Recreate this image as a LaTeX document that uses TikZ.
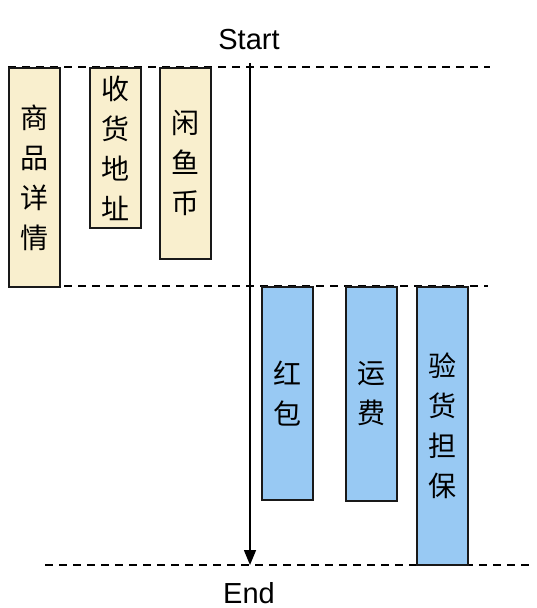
\documentclass[tikz,border=0pt]{standalone}
\usepackage{fontspec}
\setmainfont{Liberation Sans}
\newfontfamily\cjk{Noto Sans CJK SC}
\usetikzlibrary{arrows.meta}
\definecolor{beige}{RGB}{249,239,206}
\definecolor{skyb}{RGB}{152,201,243}
\begin{document}
\begin{tikzpicture}[x=1pt,y=-1pt,
  colbox/.style={draw=black!90,line width=1.8pt,inner sep=0pt,anchor=north west,minimum width=51pt,
    align=center,font=\cjk\fontsize{28}{40}\selectfont},
  ybox/.style={colbox,fill=beige},
  bbox/.style={colbox,fill=skyb},
  sep/.style={dash pattern=on 8pt off 6pt,line width=1.2pt},
  lbl/.style={font=\fontsize{29}{32}\selectfont,inner sep=0pt}]
\useasboundingbox (0,0) rectangle (536,608);
% separators
\coordinate (l1a) at (8,67);   \coordinate (l1b) at (490,67);
\coordinate (l2a) at (8,286);  \coordinate (l2b) at (488,286);
\coordinate (l3a) at (45,565); \coordinate (l3b) at (530,565);
\draw[sep] (l1a) -- (l1b);
\draw[sep] (l2a) -- (l2b);
\draw[sep] (l3a) -- (l3b);
% labels
\node[lbl] (start) at (249,40) {Start};
\node[lbl] (end) at (249,593) {End};
% arrow
\coordinate (atop) at (250,63);
\coordinate (abot) at (250,565);
\draw[line width=1.5pt,-{Triangle[length=15pt,width=12pt]}] (atop) -- (abot);
% boxes
\node[ybox,minimum height=219pt] (b1) at (8,67) {商\\品\\详\\情};
\node[ybox,minimum height=160pt] (b2) at (89,67) {收\\货\\地\\址};
\node[ybox,minimum height=191pt] (b3) at (159,67) {闲\\鱼\\币};
\node[bbox,minimum height=213pt] (b4) at (261,286) {红\\包};
\node[bbox,minimum height=214pt] (b5) at (345,286) {运\\费};
\node[bbox,minimum height=278pt] (b6) at (416,286) {验\\货\\担\\保};
\end{tikzpicture}
\end{document}
